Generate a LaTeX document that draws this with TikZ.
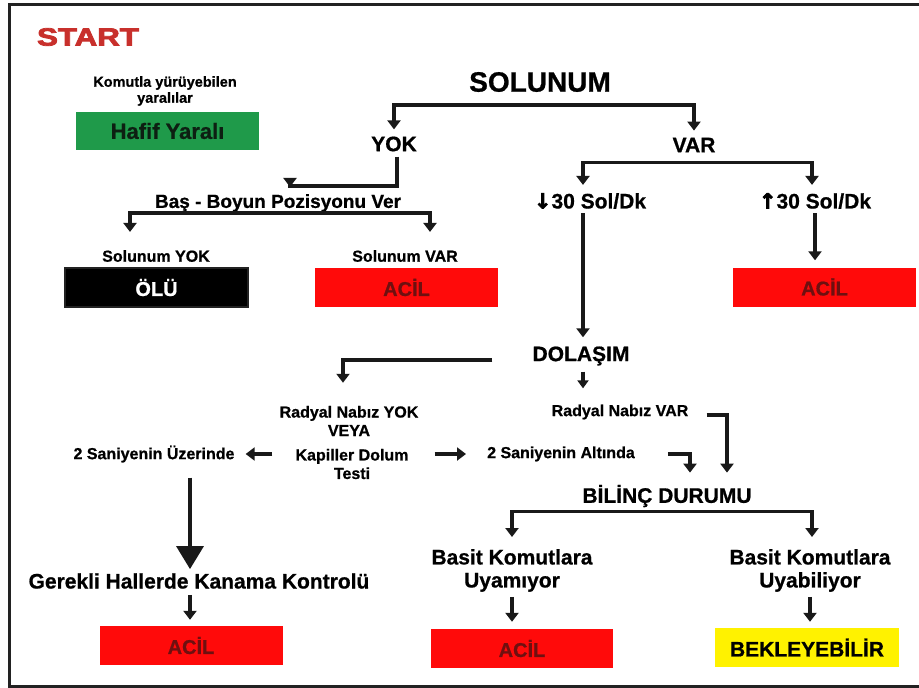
\documentclass[tikz,border=0pt]{standalone}
\usepackage{fontspec}
\setmainfont{Liberation Sans}[BoldFeatures={FakeBold=0.8}]
\newfontfamily\symfont{DejaVu Sans}[UprightFont={* Bold}, UprightFeatures={FakeBold=3}]
\newfontfamily\heavyfont{Liberation Sans}[UprightFont={* Bold}, UprightFeatures={FakeBold=3}]
\usetikzlibrary{arrows.meta,calc}
\definecolor{startred}{HTML}{C8302C}
\definecolor{boxred}{HTML}{FF0A0A}
\definecolor{acilred}{HTML}{6E1010}
\definecolor{hgreen}{HTML}{1F9A4A}
\definecolor{htext}{HTML}{0D1F12}
\definecolor{byellow}{HTML}{FFF200}
\definecolor{frame}{HTML}{222222}
\begin{document}
\begin{tikzpicture}[x=1pt,y=-1pt,
  txt/.style={inner sep=0pt, align=center, text=black},
  t14/.style={txt, font=\fontsize{14.5}{16}\selectfont\bfseries},
  t16/.style={txt, font=\fontsize{16}{18.5}\selectfont\bfseries},
  t19/.style={txt, font=\fontsize{19}{22}\selectfont\bfseries},
  t21/.style={txt, font=\fontsize{21}{23}\selectfont\bfseries},
  t28/.style={txt, font=\fontsize{28}{32}\selectfont\bfseries},
  box/.style={minimum width=183pt, minimum height=39pt, inner sep=0pt,
    font=\fontsize{20}{24}\selectfont\bfseries},
  redbox/.style={box, fill=boxred, text=acilred},
  ln/.style={line width=3.5pt, draw=black!90},
  arr/.style={ln, -{Triangle[width=13pt,length=9pt]}},
  bigarr/.style={ln, -{Triangle[width=27pt,length=23pt]}}
]
\useasboundingbox (0,0) rectangle (919,688);
\fill[white] (0,0) rectangle (919,688);
% frame
\draw[frame, line width=3pt] (919,4) -- (9,4) -- (9,686) -- (919,686);

% nodes
\node[txt, text=startred, font=\fontsize{25}{28}\selectfont\heavyfont] (start) at (88,37) {\scalebox{1.25}[1]{START}};
\node[t14] (komut) at (165,91) {Komutla yürüyebilen\\yaralılar};
\node[box, fill=hgreen, text=htext, minimum height=38pt, font=\fontsize{22}{26}\selectfont\bfseries] (hafif) at (167.5,131) {Hafif Yaralı};

\node[t28] (solunum) at (540,82) {SOLUNUM};
\node[t21] (yok) at (394,144) {YOK};
\node[t21] (var) at (694,145) {VAR};
\node[t19] (bas) at (278,203) {Baş - Boyun Pozisyonu Ver};
\node[t16] (solyok) at (156,256) {Solunum YOK};
\node[t16] (solvar) at (405,256) {Solunum VAR};
\node[box, fill=black, draw=frame, line width=1.5pt, text=white] (olu) at (156.5,287.5) {ÖLÜ};
\node[redbox] (acil1) at (406.5,287.5) {ACİL};
\node[t21] (slow) at (590,201) {{\symfont ↓}30 Sol/Dk};
\node[t21] (fast) at (815,201) {{\symfont ↑}30 Sol/Dk};
\node[redbox] (acil2) at (824.5,287) {ACİL};
\node[t21] (dolasim) at (581,356) {DOLAŞIM};
\node[t16] (radyok) at (349,421) {Radyal Nabız YOK\\VEYA};
\node[t16] (kap) at (352,464) {Kapiller Dolum\\Testi};
\node[t16] (radvar) at (620,412) {Radyal Nabız VAR};
\node[t16] (alt) at (561,454) {2 Saniyenin Altında};
\node[t16] (ust) at (154,454) {2 Saniyenin Üzerinde};
\node[t21] (gerekli) at (199,581) {Gerekli Hallerde Kanama Kontrolü};
\node[redbox] (acil3) at (191,645.5) {ACİL};
\node[t21] (bilinc) at (667,496) {BİLİNÇ DURUMU};
\node[t21] (uyamiyor) at (512,570.5) {Basit Komutlara\\Uyamıyor};
\node[t21] (uyabiliyor) at (810,570.5) {Basit Komutlara\\Uyabiliyor};
\node[redbox, minimum width=182pt] (acil4) at (522,648.5) {ACİL};
\node[box, fill=byellow, text=black, minimum width=184pt, font=\fontsize{21}{24}\selectfont\bfseries] (bekle) at (807,647.5) {BEKLEYEBİLİR};

% connectors
\coordinate (sm) at ($(solunum.south)+(0,13)$);
\draw[arr, shorten >=7pt] (sm) -| (yok.north);
\draw[arr, shorten >=7pt] (sm) -| (var.north);

\draw[arr] ($(yok.south)+(3,5)$) |- ($(bas.north)+(12,-8)$ |- 0,180) -- ($(bas.north)+(12,-7)$);

\coordinate (bm) at ($(bas.south)+(0,1)$);
\draw[arr] (bm) -| ($(solyok.north)+(-26,-18)$);
\draw[arr] (bm) -| ($(solvar.north)+(25,-18)$);

\coordinate (vm) at ($(var.south)+(3,10)$);
\draw[arr] (vm) -| ($(slow.north)+(-7,-8)$);
\draw[arr] (vm) -| ($(fast.north)+(-3,-8)$);

\draw[arr] ($(slow.south)+(-7,4)$) -- ($(dolasim.north)+(2,-9)$);
\draw[arr] ($(fast.south)+(0,4)$) -- ($(acil2.north)+(-9.5,-7)$);

\draw[arr] ($(dolasim.west)+(-40,4)$) -| ($(radyok.north)+(-6,-23)$);
\draw[arr, -{Triangle[width=11pt,length=8pt]}] ($(dolasim.south)+(2,6)$) -- ($(radvar.north)+(-37,-16)$);

\draw[arr] ($(radvar.east)+(18,3)$) -| ($(bilinc.north)+(60,-12)$);
\draw[arr] ($(alt.east)+(33,0)$) -| ($(bilinc.north)+(23,-12)$);

\draw[arr] ($(kap.west)+(-23,-10)$) -- ($(ust.east)+(11,0)$);
\draw[arr] ($(kap.east)+(26,-10)$) -- ($(alt.west)+(-21,0)$);

\draw[bigarr] ($(ust.south)+(36,15)$) -- ($(gerekli.north)+(-9,-4)$);
\draw[arr] ($(gerekli.south)+(-9,6)$) -- ($(acil3.north)+(-1,-6)$);

\coordinate (bim) at ($(bilinc.south)+(-5,4)$);
\draw[arr] (bim) -| ($(uyamiyor.north)+(0,-12)$);
\draw[arr] (bim) -| ($(uyabiliyor.north)+(2,-12)$);

\draw[arr] ($(uyamiyor.south)+(0,5)$) -- ($(acil4.north)+(-10,-7)$);
\draw[arr] ($(uyabiliyor.south)+(0,5)$) -- ($(bekle.north)+(3,-6)$);
\end{tikzpicture}
\end{document}
